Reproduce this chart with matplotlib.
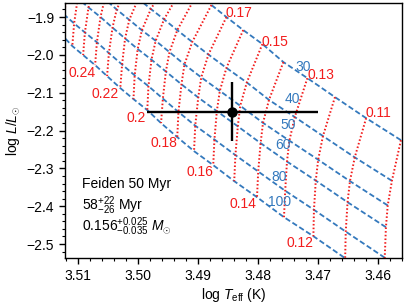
import matplotlib
matplotlib.use("Agg")
import matplotlib.pyplot as plt
from matplotlib.ticker import MultipleLocator

plt.rcParams["font.family"] = ["Liberation Sans", "DejaVu Sans"]
plt.rcParams["mathtext.fontset"] = "custom"
plt.rcParams["mathtext.rm"] = "Liberation Sans"
plt.rcParams["mathtext.it"] = "Liberation Sans:italic"
plt.rcParams["mathtext.bf"] = "Liberation Sans:bold"

# --------------------------------------------------------------------------
# model grid (Feiden isochrones / mass tracks)
# --------------------------------------------------------------------------
masses = [0.10, 0.11, 0.12, 0.13, 0.14, 0.15, 0.16, 0.17, 0.18,
          0.19, 0.20, 0.21, 0.22, 0.23, 0.24, 0.25, 0.26, 0.27]
ages = [30, 40, 50, 60, 80, 100]

teff_30 = [3.4562, 3.4620, 3.4672, 3.4718, 3.4758, 3.4793, 3.4825, 3.4853, 3.4878,
           3.4902, 3.4923, 3.4943, 3.4963, 3.4982, 3.5000, 3.5017, 3.5033, 3.5050]
logl_30 = [-2.2254, -2.1672, -2.1116, -2.0614, -2.0190, -1.9714, -1.9344, -1.9000, -1.8682,
           -1.8391, -1.8127, -1.7862, -1.7598, -1.7360, -1.7095, -1.6857, -1.6619, -1.6381]
teff_40 = [3.4577, 3.4639, 3.4692, 3.4739, 3.4782, 3.4819, 3.4853, 3.4883, 3.4910,
           3.4935, 3.4957, 3.4979, 3.5000, 3.5020, 3.5039, 3.5058, 3.5076, 3.5092]
logl_40 = [-2.3328, -2.2709, -2.2146, -2.1643, -2.1190, -2.0729, -2.0344, -1.9992, -1.9660,
           -1.9347, -1.9060, -1.8788, -1.8516, -1.8256, -1.7984, -1.7738, -1.7500, -1.7262]
teff_50 = [3.4584, 3.4647, 3.4700, 3.4748, 3.4792, 3.4830, 3.4864, 3.4895, 3.4923,
           3.4948, 3.4971, 3.4994, 3.5015, 3.5036, 3.5056, 3.5075, 3.5093, 3.5110]
logl_50 = [-2.3980, -2.3338, -2.2771, -2.2268, -2.1797, -2.1345, -2.0951, -2.0595, -2.0254,
           -1.9927, -1.9627, -1.9350, -1.9074, -1.8800, -1.8524, -1.8274, -1.8035, -1.7797]
teff_60 = [3.4587, 3.4651, 3.4704, 3.4752, 3.4796, 3.4834, 3.4869, 3.4900, 3.4928,
           3.4954, 3.4978, 3.5001, 3.5022, 3.5043, 3.5063, 3.5083, 3.5101, 3.5117]
logl_60 = [-2.4555, -2.3894, -2.3323, -2.2820, -2.2333, -2.1889, -2.1487, -2.1127, -2.0778,
           -2.0439, -2.0127, -1.9846, -1.9566, -1.9280, -1.9000, -1.8746, -1.8508, -1.8270]
teff_80 = [3.4589, 3.4654, 3.4707, 3.4755, 3.4800, 3.4838, 3.4873, 3.4905, 3.4933,
           3.4959, 3.4983, 3.5006, 3.5027, 3.5049, 3.5069, 3.5089, 3.5107, 3.5124]
logl_80 = [-2.5361, -2.4672, -2.4095, -2.3592, -2.3083, -2.2650, -2.2237, -2.1871, -2.1511,
           -2.1156, -2.0827, -2.0541, -2.0255, -1.9952, -1.9666, -1.9407, -1.9169, -1.8931]
teff_100 = [3.4590, 3.4655, 3.4708, 3.4757, 3.4802, 3.4840, 3.4875, 3.4907, 3.4935,
            3.4962, 3.4985, 3.5008, 3.5030, 3.5052, 3.5072, 3.5092, 3.5110, 3.5127]
logl_100 = [-2.6090, -2.5375, -2.4793, -2.4291, -2.3762, -2.3338, -2.2915, -2.2545, -2.2174,
            -2.1804, -2.1460, -2.1169, -2.0878, -2.0561, -2.0270, -2.0005, -1.9767, -1.9479]

# isochrone labels
iso_labels = ["30", "40", "50", "60", "80", "100"]
iso_label_teff = [3.4725, 3.4743, 3.4750, 3.4758, 3.4765, 3.4765]
iso_label_logl = [-2.0323, -2.1169, -2.1857, -2.2386, -2.3233, -2.3894]

# mass labels
mass_labels = ["0.24", "0.22", "0.2", "0.18", "0.16", "0.14", "0.12",
               "0.17", "0.15", "0.13", "0.11"]
mass_label_teff = [3.5093, 3.5055, 3.5003, 3.4958, 3.4898, 3.4825, 3.4730,
                   3.4832, 3.4772, 3.4695, 3.4600]
mass_label_logl = [-2.0481, -2.1037, -2.1672, -2.2333, -2.3100, -2.3947, -2.4979,
                   -1.8894, -1.9661, -2.0534, -2.1539]

# the star
star_teff = 3.4843
star_teff_err = 0.0143
star_logl = -2.150
star_logl_err = 0.078

BLUE = "#3479bd"
RED = "#f21c1c"
FS = 10

teff_grid = [teff_30, teff_40, teff_50, teff_60, teff_80, teff_100]
logl_grid = [logl_30, logl_40, logl_50, logl_60, logl_80, logl_100]

fig = plt.figure(figsize=(4.07, 3.05), dpi=100)
ax = fig.add_axes([0.160, 0.154, 0.828, 0.836])

# isochrones
for teff_row, logl_row in zip(teff_grid, logl_grid):
    ax.plot(teff_row, logl_row, color=BLUE, lw=1.3, ls=(0, (3.0, 1.5)))

# mass tracks
for j in range(len(masses)):
    track_t = [row[j] for row in teff_grid]
    track_l = [row[j] for row in logl_grid]
    ax.plot(track_t, track_l, color=RED, lw=1.4, ls=(0, (0.8, 1.1)))

for label, t, l in zip(iso_labels, iso_label_teff, iso_label_logl):
    ax.text(t, l, label, color=BLUE, fontsize=FS, ha="center", va="center")

for label, t, l in zip(mass_labels, mass_label_teff, mass_label_logl):
    ax.text(t, l, label, color=RED, fontsize=FS, ha="center", va="center")

ax.errorbar([star_teff], [star_logl], xerr=[star_teff_err], yerr=[star_logl_err],
            fmt="o", color="black", ms=6.5, elinewidth=1.7, capsize=0, zorder=5)

ax.text(0.05, 0.275, "Feiden 50 Myr", transform=ax.transAxes, fontsize=FS, va="baseline")
ax.text(0.05, 0.19, r"$58^{+22}_{-26}$ Myr", transform=ax.transAxes, fontsize=FS, va="baseline")
ax.text(0.05, 0.105, r"$0.156^{+0.025}_{-0.035}$ $M_{\odot}$", transform=ax.transAxes,
        fontsize=FS, va="baseline")

ax.set_xlim(3.5122, 3.456)
ax.set_ylim(-2.537, -1.863)
ax.xaxis.set_major_locator(MultipleLocator(0.01))
ax.xaxis.set_minor_locator(MultipleLocator(0.002))
ax.yaxis.set_major_locator(MultipleLocator(0.1))
ax.yaxis.set_minor_locator(MultipleLocator(0.02))
ax.tick_params(which="major", direction="out", length=4.5, width=1.0, labelsize=FS)
ax.tick_params(which="minor", direction="out", length=2.3, width=0.8)
for spine in ax.spines.values():
    spine.set_linewidth(1.0)

ax.set_xlabel(r"log $T_{\rm eff}$ (K)", fontsize=FS, labelpad=2)
ax.set_ylabel(r"log $L/L_{\odot}$", fontsize=FS, labelpad=3)

fig.savefig("out.png", dpi=100)
